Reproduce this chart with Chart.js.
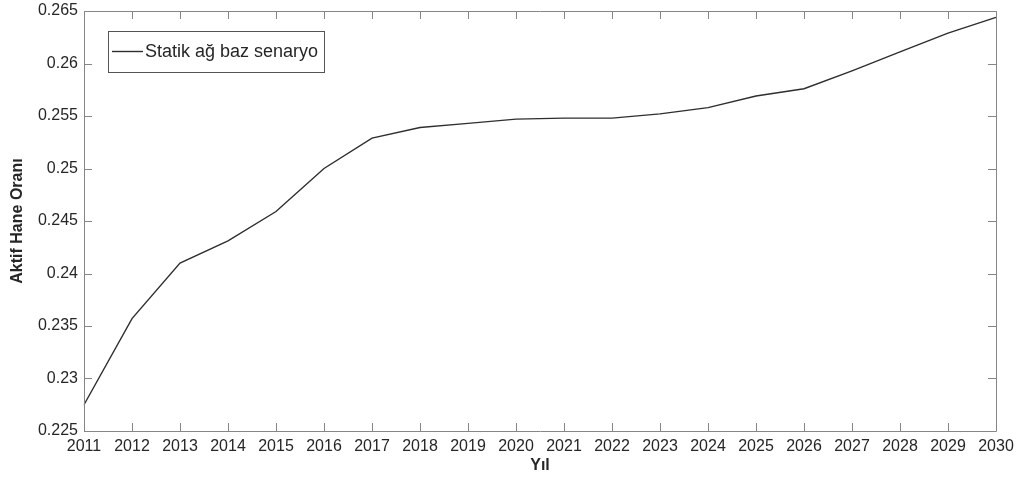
<!DOCTYPE html>
<html>
<head>
<meta charset="utf-8">
<script src="https://cdn.jsdelivr.net/npm/chart.js@4/dist/chart.umd.min.js"></script>
<style>
  html, body { margin: 0; padding: 0; background: #fff; }
  #wrap { width: 1017px; height: 480px; }
</style>
</head>
<body>
<div id="wrap"><canvas id="c" width="1017" height="480"></canvas></div>
<script>
// Years on the horizontal axis
const years = ['2011','2012','2013','2014','2015','2016','2017','2018','2019','2020',
               '2021','2022','2023','2024','2025','2026','2027','2028','2029','2030'];

// Active household ratio, static network base scenario
const activeRatio = [0.2275, 0.2357, 0.2410, 0.2431, 0.2459, 0.2500, 0.2529, 0.2539, 0.2543, 0.2547,
                     0.2548, 0.2548, 0.2552, 0.2558, 0.2569, 0.2576, 0.2593, 0.2611, 0.2629, 0.2644];

// Vertical axis ticks
const yTicks = [0.225, 0.23, 0.235, 0.24, 0.245, 0.25, 0.255, 0.26, 0.265];

const seriesLabel = 'Statik ağ baz senaryo';
const xTitle = 'Yıl';
const yTitle = 'Aktif Hane Oranı';

const AXIS_COLOR = '#868686';
const TEXT_COLOR = '#262626';
const FONT = 'Liberation Sans, Arial, sans-serif';

// Box around the plot with inward-pointing tick marks on all four sides
const boxAxes = {
  id: 'boxAxes',
  afterDatasetsDraw(chart) {
    const { ctx, chartArea: a, scales: { x, y } } = chart;
    const len = 8;
    ctx.save();
    ctx.strokeStyle = AXIS_COLOR;
    ctx.lineWidth = 1;
    ctx.beginPath();
    ctx.rect(Math.round(a.left) + 0.5, Math.round(a.top) + 0.5,
             Math.round(a.right - a.left), Math.round(a.bottom - a.top));
    x.ticks.forEach((t, i) => {
      const px = Math.round(x.getPixelForTick(i)) + 0.5;
      ctx.moveTo(px, a.bottom); ctx.lineTo(px, a.bottom - len);
      ctx.moveTo(px, a.top); ctx.lineTo(px, a.top + len);
    });
    y.ticks.forEach((t, i) => {
      const py = Math.round(y.getPixelForTick(i)) + 0.5;
      ctx.moveTo(a.left, py); ctx.lineTo(a.left + len, py);
      ctx.moveTo(a.right, py); ctx.lineTo(a.right - len, py);
    });
    ctx.stroke();
    ctx.restore();
  }
};

// Legend box in the upper-left corner of the plot
const boxLegend = {
  id: 'boxLegend',
  afterDraw(chart) {
    const { ctx, chartArea: a } = chart;
    const ds = chart.data.datasets[0];
    const bx = a.left + 24, by = a.top + 20, bw = 216, bh = 41;
    ctx.save();
    ctx.fillStyle = '#fff';
    ctx.fillRect(bx, by, bw, bh);
    ctx.strokeStyle = '#555';
    ctx.lineWidth = 1;
    ctx.strokeRect(bx + 0.5, by + 0.5, bw, bh);
    const cy = by + bh / 2;
    ctx.strokeStyle = ds.borderColor;
    ctx.lineWidth = ds.borderWidth;
    ctx.beginPath();
    ctx.moveTo(bx + 4, cy); ctx.lineTo(bx + 35, cy);
    ctx.stroke();
    ctx.fillStyle = TEXT_COLOR;
    ctx.font = '18px ' + FONT;
    ctx.textBaseline = 'middle';
    ctx.textAlign = 'left';
    ctx.fillText(ds.label, bx + 37, cy + 1);
    ctx.restore();
  }
};

new Chart(document.getElementById('c'), {
  type: 'line',
  data: {
    labels: years,
    datasets: [{
      label: seriesLabel,
      data: activeRatio,
      borderColor: '#2e2e2e',
      borderWidth: 1.4,
      pointRadius: 0,
      fill: false,
      tension: 0
    }]
  },
  options: {
    responsive: false,
    animation: false,
    layout: { padding: { top: 11, right: 21, left: 0, bottom: 0 } },
    plugins: { legend: { display: false }, tooltip: { enabled: false } },
    scales: {
      x: {
        type: 'category',
        offset: false,
        grid: { display: false, drawTicks: false },
        border: { display: false },
        ticks: {
          autoSkip: false, maxRotation: 0, padding: 6,
          color: TEXT_COLOR, font: { family: FONT, size: 16 }
        },
        title: {
          display: true, text: xTitle, color: TEXT_COLOR,
          font: { family: FONT, size: 16, weight: 'bold' },
          padding: { top: 0, bottom: 5 }
        },
        afterFit(s) { s.height = 49; s.paddingLeft = 0; s.paddingRight = 0; }
      },
      y: {
        min: 0.225, max: 0.265,
        grid: { display: false, drawTicks: false },
        border: { display: false },
        afterBuildTicks(s) { s.ticks = yTicks.map(v => ({ value: v })); },
        ticks: {
          padding: 6, color: TEXT_COLOR, font: { family: FONT, size: 16 },
          callback: v => String(parseFloat(Number(v).toFixed(3)))
        },
        title: {
          display: true, text: yTitle, color: TEXT_COLOR,
          font: { family: FONT, size: 16, weight: 'bold' },
          padding: { top: 8, bottom: 0 }
        },
        afterFit(s) { s.width = 84; s.paddingTop = 0; s.paddingBottom = 0; }
      }
    }
  },
  plugins: [boxAxes, boxLegend]
});
</script>
</body>
</html>
